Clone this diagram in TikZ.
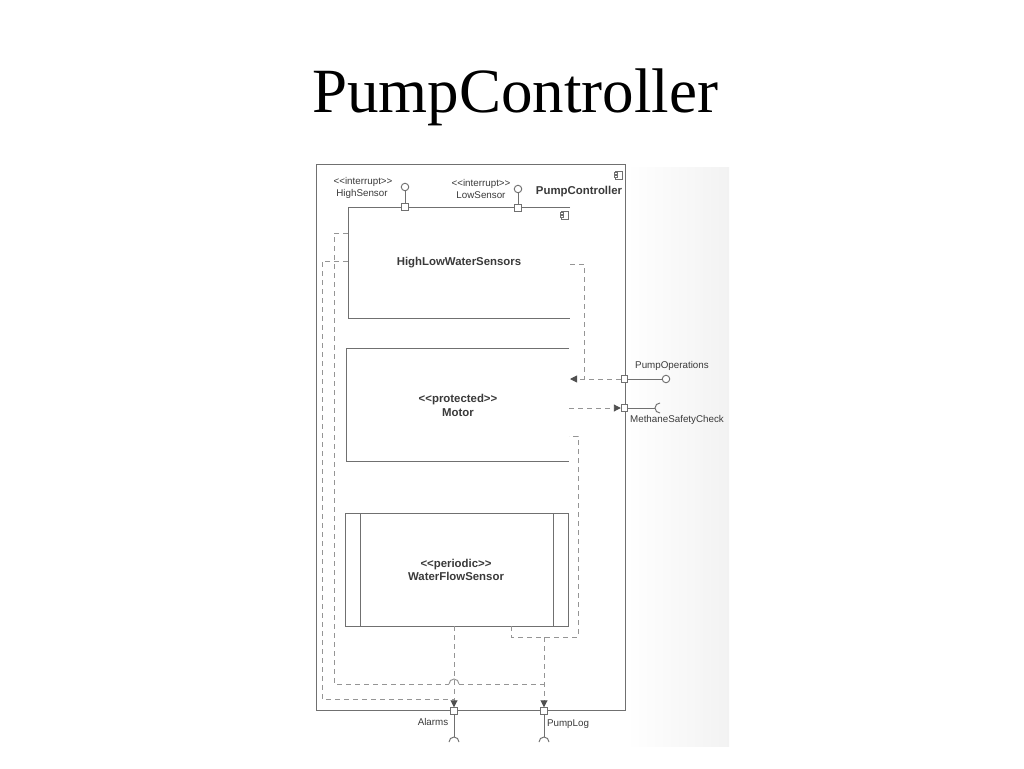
\documentclass[tikz,border=0pt]{standalone}
\usepackage{fontspec}
\setmainfont{Liberation Serif}
\newfontfamily\umlfont{Liberation Sans}
\usetikzlibrary{arrows.meta}
\definecolor{linecol}{HTML}{707070}
\definecolor{dashcol}{HTML}{959595}
\definecolor{arrcol}{HTML}{505050}
\definecolor{txtcol}{HTML}{3A3A3A}
\newcommand\stL{<\kern0pt<}
\newcommand\stR{>\kern0pt>}
\tikzset{
  title/.style={font=\fontsize{63}{70}\selectfont, text=black, inner sep=0pt, anchor=base},
  lbl/.style={font=\umlfont\fontsize{9.8}{11}\selectfont, text=txtcol, inner sep=0pt},
  bname/.style={font=\umlfont\bfseries\fontsize{11.4}{13.5}\selectfont, text=txtcol, inner sep=0pt, align=center},
  area/.style={inner sep=0pt, outer sep=0pt},
  conn/.style={draw=linecol, line width=0.95pt},
  dep/.style={draw=dashcol, line width=0.95pt, dash pattern=on 5pt off 4pt},
  deparrow/.style={dep, -{Triangle[length=7pt,width=7pt,color=arrcol]}},
  port/.style={draw=linecol, fill=white, line width=0.95pt, minimum size=6.5pt, inner sep=0pt},
  ball/.style={draw=linecol, fill=white, line width=0.95pt, circle, minimum size=7.5pt, inner sep=0pt},
  compicon/.pic={
    \draw[linecol, line width=0.8pt, fill=white] (-2.5,-4) rectangle (4,4);
    \draw[linecol, line width=0.8pt, fill=white] (-4,-2.6) rectangle (-1,-0.8);
    \draw[linecol, line width=0.8pt, fill=white] (-4,0.8) rectangle (-1,2.6);
  }
}
\begin{document}
\begin{tikzpicture}[x=1pt,y=-1pt]
\useasboundingbox (0,0) rectangle (1024,768);
\fill[white] (0,0) rectangle (1024,768);
\shade[left color=white, right color=black!5] (626,167) rectangle (729,746);

% title
\node[title] (title) at (515,112) {PumpController};

% outer component
\node[area, minimum width=309pt, minimum height=546pt] (pc) at (470.5,437) {};
\draw[conn] (pc.north west) rectangle (pc.south east);
\pic at (618,175) {compicon};
\node[bname] (pcname) at (579,192) {PumpController};

% inner components
\node[area, minimum width=222pt, minimum height=111pt] (hlw) at (459,262.5) {};
\draw[conn] (hlw.north east) -- (hlw.north west) -- (hlw.south west) -- (hlw.south east);
\pic at (564,215) {compicon};
\node[bname] (hlwname) at (459,263) {HighLowWaterSensors};

\node[area, minimum width=223pt, minimum height=113pt] (mot) at (457.5,404.5) {};
\draw[conn] (mot.north east) -- (mot.north west) -- (mot.south west) -- (mot.south east);
\node[bname] (motname) at (458,405.5) {\stL protected\stR\\Motor};

\node[area, minimum width=223pt, minimum height=113pt] (wfs) at (456.5,569.5) {};
\draw[conn] (wfs.north west) rectangle (wfs.south east);
\draw[conn] ([xshift=15pt]wfs.north west) -- ([xshift=15pt]wfs.south west);
\draw[conn] ([xshift=-15pt]wfs.north east) -- ([xshift=-15pt]wfs.south east);
\node[bname] (wfsname) at (456,570) {\stL periodic\stR\\WaterFlowSensor};

% top provided interfaces
\node[lbl] (hsst) at (363,182) {\stL interrupt\stR};
\node[lbl] (hsn) at (362,193.5) {HighSensor};
\node[ball] (hsb) at (405,187) {};
\node[port] (hsp) at (405,207) {};
\draw[conn] (hsp) -- (hsb);

\node[lbl] (lsst) at (481,184) {\stL interrupt\stR};
\node[lbl] (lsn) at (481,195.5) {LowSensor};
\node[ball] (lsb) at (518,189) {};
\node[port] (lsp) at (518,208) {};
\draw[conn] (lsp) -- (lsb);

% right interfaces
\node[port] (pop) at (624.5,379) {};
\node[ball] (pob) at (666,379) {};
\draw[conn] (pop) -- (pob);
\node[lbl] (pon) at (672,366) {PumpOperations};

\node[port] (msp) at (624.5,408) {};
\coordinate (mss) at (655,408);
\draw[conn] (msp) -- (mss);
\draw[conn] (660,403) arc[start angle=270, end angle=90, radius=5];
\node[lbl] (msn) at (677,420) {MethaneSafetyCheck};

% bottom required interfaces
\node[port] (alp) at (454,711) {};
\coordinate (als) at (454,737);
\draw[conn] (alp) -- (als);
\draw[conn] (449,742) arc[start angle=180, end angle=360, radius=5];
\node[lbl] (aln) at (433,722) {Alarms};

\node[port] (plp) at (544,711) {};
\coordinate (pls) at (544,737);
\draw[conn] (plp) -- (pls);
\draw[conn] (539,742) arc[start angle=180, end angle=360, radius=5];
\node[lbl] (pln) at (568,724) {PumpLog};

% dashed delegations / dependencies
\coordinate (a1) at (348,233);
\coordinate (a2) at (334,233);
\coordinate (a3) at (334,684);
\coordinate (hopL) at (449,684);
\coordinate (hopR) at (459,684);
\coordinate (a4) at (544,684);
\draw[dep] (a1) -- (a2) -- (a3) -- (hopL);
\draw[draw=dashcol, line width=0.95pt] (hopL) arc[start angle=180, end angle=360, radius=5];
\draw[dep] (hopR) -- (a4);

\coordinate (b1) at (348,261);
\coordinate (b2) at (322,261);
\coordinate (b3) at (322,699);
\coordinate (b4) at (454,699);
\draw[dep] (b1) -- (b2) -- (b3) -- (b4);

\coordinate (c1) at (454,626);
\draw[deparrow] (c1) -- (alp.north);

\coordinate (d1) at (511,626);
\coordinate (d2) at (511,637);
\coordinate (d3) at (578,637);
\coordinate (d4) at (578,436);
\coordinate (d5) at (569,436);
\draw[dep] (d1) -- (d2) -- (d3) -- (d4) -- (d5);

\coordinate (e1) at (544,637);
\draw[deparrow] (e1) -- (plp.north);

\coordinate (f1) at (570,264);
\coordinate (f2) at (584,264);
\coordinate (f3) at (584,379);
\draw[dep] (f1) -- (f2) -- (f3);

\coordinate (g1) at (570,379);
\draw[deparrow] (pop.west) -- (g1);

\coordinate (h1) at (569,408);
\draw[deparrow] (h1) -- (msp.west);
\end{tikzpicture}
\end{document}
